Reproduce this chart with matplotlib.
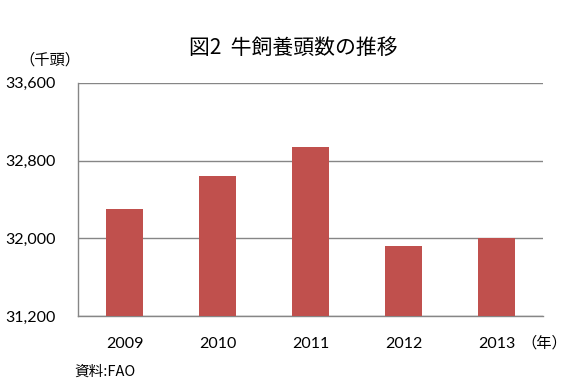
import matplotlib
matplotlib.use("Agg")
import matplotlib.pyplot as plt
from matplotlib.ticker import FuncFormatter

plt.rcParams['font.family'] = ['Noto Sans CJK JP', 'DejaVu Sans']

years = ["2009", "2010", "2011", "2012", "2013"]
values = [32300, 32640, 32935, 31920, 32005]
yticks = [31200, 32000, 32800, 33600]

fig = plt.figure(figsize=(5.84, 3.85), dpi=100)
ax = fig.add_axes([0.1336, 0.179, 0.7962, 0.606])

x = list(range(len(years)))
ax.bar(x, values, width=0.4, color="#C0504D", zorder=3)
ax.set_xlim(-0.5, len(years) - 0.5)
ax.set_ylim(yticks[0], yticks[-1])
ax.set_yticks(yticks)
ax.yaxis.set_major_formatter(FuncFormatter(lambda v, p: f"{int(v):,}"))
ax.set_xticks(x)
ax.set_xticklabels(years)
ax.grid(axis="y", color="#868686", linewidth=1.0, zorder=0)
ax.set_axisbelow(True)
for s in ["top", "right"]:
    ax.spines[s].set_visible(False)
for s in ["left", "bottom"]:
    ax.spines[s].set_color("#868686")
    ax.spines[s].set_linewidth(1.0)
ax.tick_params(axis="both", length=0, labelsize=11.5, colors="black")
ax.tick_params(axis="x", pad=15)
ax.tick_params(axis="y", pad=16)
for lab in ax.get_xticklabels() + ax.get_yticklabels():
    lab.set_family(["Lato", "DejaVu Sans"])

fig.text(0.503, 0.876, "図2  牛飼養頭数の推移", ha="center", va="center", fontsize=15)
fig.text(0.086, 0.845, "（千頭）", ha="center", va="center", fontsize=11)
fig.text(0.932, 0.11, "（年）", ha="center", va="center", fontsize=11)
fig.text(0.128, 0.035, "資料:FAO", ha="left", va="center", fontsize=10.5)

fig.savefig("out.png", dpi=100)
